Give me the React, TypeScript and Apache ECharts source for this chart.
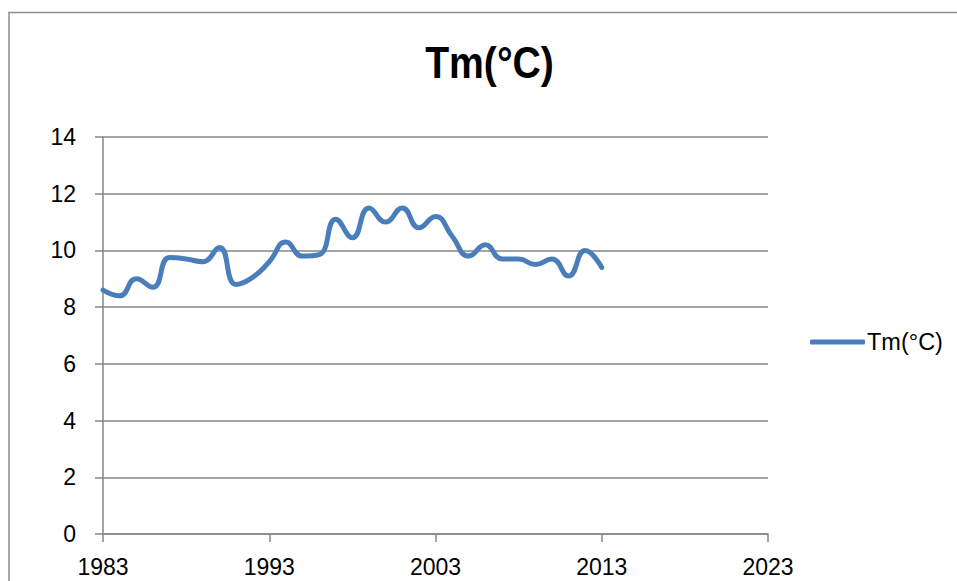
import React, { useEffect, useRef } from "react";
import * as echarts from "echarts";

const years: number[] = [
  1983, 1984, 1985, 1986, 1987, 1988, 1989, 1990, 1991, 1992, 1993, 1994, 1995, 1996, 1997, 1998,
  1999, 2000, 2001, 2002, 2003, 2004, 2005, 2006, 2007, 2008, 2009, 2010, 2011, 2012, 2013,
];
const tmValues: number[] = [
  8.6, 8.4, 9.0, 8.7, 9.75, 9.7, 9.6, 10.1, 8.8, 9.05, 9.6, 10.3, 9.8, 9.85, 11.1, 10.45,
  11.5, 11.0, 11.5, 10.8, 11.2, 10.5, 9.8, 10.2, 9.7, 9.7, 9.5, 9.7, 9.1, 10.0, 9.4,
];
const seriesName = "Tm(°C)";
const titleText = "Tm(°C)";

const GRID = "#868686";
const LINE = "#4a7ebb";
const FONT = "'Liberation Sans', Arial, sans-serif";

export default function App() {
  const ref = useRef<HTMLDivElement>(null);
  useEffect(() => {
    if (!ref.current) return;
    const chart = echarts.init(ref.current, undefined, { renderer: "svg" });
    chart.setOption({
      animation: false,
      backgroundColor: "#ffffff",
      legend: {
        left: 810,
        top: 330,
        padding: 0,
        itemWidth: 55,
        itemHeight: 5,
        itemGap: 0,
        icon: "roundRect",
        data: [seriesName],
        textStyle: { fontFamily: FONT, fontSize: 23.5, color: "#000", padding: [0, 0, 0, -3] },
      },
      graphic: [
        {
          type: "rect",
          shape: { x: 9, y: 12.5, width: 1000, height: 700 },
          style: { fill: "none", stroke: "#8c8c8c", lineWidth: 1.5 },
          silent: true,
        },
        {
          type: "text",
          x: 489.5,
          y: 63,
          scaleX: 0.87,
          style: {
            text: titleText,
            fontFamily: FONT,
            fontWeight: "bold",
            fontSize: 45,
            fill: "#000",
            align: "center",
            verticalAlign: "middle",
          },
          silent: true,
        },
      ],
      grid: { left: 103, right: 189, top: 137, bottom: 47, containLabel: false },
      xAxis: {
        type: "value",
        min: 1983,
        max: 2023,
        interval: 10,
        splitLine: { show: false },
        axisLine: { show: true, lineStyle: { color: GRID, width: 1.5 } },
        axisTick: { show: true, length: 8, lineStyle: { color: GRID, width: 1.5 } },
        axisLabel: {
          margin: 21,
          fontFamily: FONT,
          fontSize: 23,
          color: "#000",
          formatter: (v: number) => String(v),
        },
      },
      yAxis: {
        type: "value",
        min: 0,
        max: 14,
        interval: 2,
        splitLine: { show: true, lineStyle: { color: GRID, width: 1.5 } },
        axisLine: { show: true, lineStyle: { color: GRID, width: 1.5 } },
        axisTick: { show: true, length: 8, lineStyle: { color: GRID, width: 1.5 } },
        axisLabel: { margin: 27, fontFamily: FONT, fontSize: 23, color: "#000" },
      },
      series: [
        {
          name: seriesName,
          type: "line",
          data: years.map((y, i) => [y, tmValues[i]]),
          smooth: 0.5,
          showSymbol: false,
          symbol: "none",
          lineStyle: { color: LINE, width: 5, cap: "round", join: "round" },
          itemStyle: { color: LINE },
        },
      ],
    });
    return () => chart.dispose();
  }, []);
  return (
    <div
      ref={ref}
      style={{ position: "absolute", left: 0, top: 0, width: 957, height: 581 }}
    />
  );
}
